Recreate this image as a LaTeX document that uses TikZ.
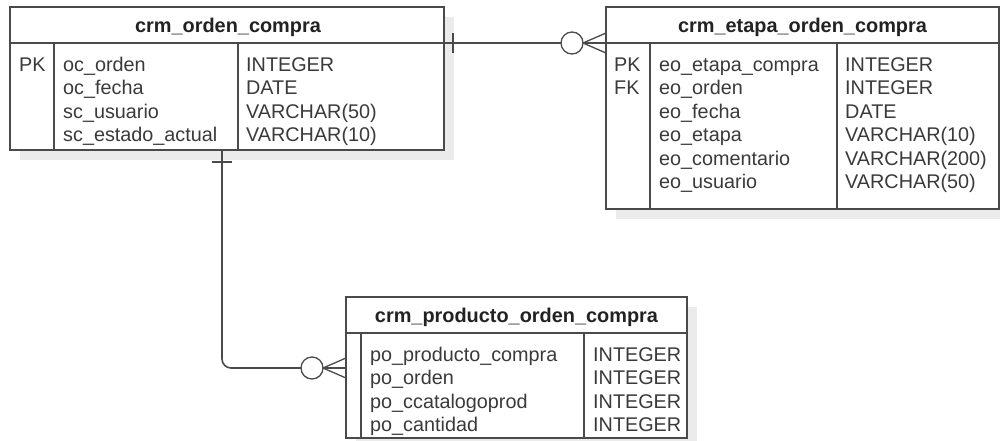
\documentclass[tikz,border=0pt]{standalone}
\usepackage{fontspec}
\setmainfont{Liberation Sans}
\usetikzlibrary{calc}
\definecolor{linegray}{HTML}{4A4A4A}
\definecolor{textgray}{HTML}{3A3A3A}
\definecolor{titlegray}{HTML}{222222}
\definecolor{shade}{HTML}{EBEBEB}

\tikzset{
  frame/.style={draw=linegray, line width=1.6pt, fill=white, inner sep=0pt, outer sep=0pt, anchor=north west},
  shadowbox/.style={fill=shade, draw=none, inner sep=0pt, outer sep=0pt, anchor=north west},
  titletext/.style={anchor=base, inner sep=0pt, text=titlegray, font=\bfseries\fontsize{19.9}{23}\selectfont},
  coltext/.style={anchor=base west, inner sep=0pt, text=textgray, font=\fontsize{19.8}{23}\selectfont},
  divider/.style={draw=linegray, line width=1.6pt},
  rel/.style={draw=linegray, line width=1.6pt},
  prong/.style={draw=linegray, line width=1.3pt},
  zeroend/.style={circle, draw=linegray, line width=1.3pt, fill=white, minimum size=22pt, inner sep=0pt, outer sep=0pt},
}

\begin{document}
\begin{tikzpicture}[x=1pt, y=-1pt]
\useasboundingbox (0,0) rectangle (1000,440);
\clip (0,0) rectangle (1000,440);

% drop shadows
\node[shadowbox, minimum width=434pt, minimum height=143pt] (s1) at (20,17) {};
\node[shadowbox, minimum width=393pt, minimum height=202pt] (s2) at (616,17) {};
\node[shadowbox, minimum width=341pt, minimum height=141pt] (s3) at (356,307) {};

% ---- crm_orden_compra ----
\node[frame, minimum width=434pt, minimum height=36pt] (t1head) at (10,7) {};
\node[frame, minimum width=434pt, minimum height=107pt] (t1body) at (10,43) {};
\draw[divider] (54,43) -- (54,150);
\draw[divider] (238,43) -- (238,150);
\node[titletext] (t1title) at (228,32) {crm\_orden\_compra};
\node[coltext] (t1key1) at (19,71) {PK};
\foreach \n/\t [count=\i] in {oc\_orden/INTEGER, oc\_fecha/DATE, sc\_usuario/VARCHAR(50), sc\_estado\_actual/VARCHAR(10)} {
  \node[coltext] (t1name\i) at (63,{71+(\i-1)*23.5}) {\n};
  \node[coltext] (t1type\i) at (246,{71+(\i-1)*23.5}) {\t};
}

% ---- crm_etapa_orden_compra ----
\node[frame, minimum width=393pt, minimum height=36pt] (t2head) at (606,7) {};
\node[frame, minimum width=393pt, minimum height=166pt] (t2body) at (606,43) {};
\draw[divider] (650,43) -- (650,209);
\draw[divider] (837,43) -- (837,209);
\node[titletext] (t2title) at (802.5,32) {crm\_etapa\_orden\_compra};
\node[coltext] (t2key1) at (614,71) {PK};
\node[coltext] (t2key2) at (614,94.5) {FK};
\foreach \n/\t [count=\i] in {eo\_etapa\_compra/INTEGER, eo\_orden/INTEGER, eo\_fecha/DATE, eo\_etapa/VARCHAR(10), eo\_comentario/VARCHAR(200), eo\_usuario/VARCHAR(50)} {
  \node[coltext] (t2name\i) at (659,{71+(\i-1)*23.5}) {\n};
  \node[coltext] (t2type\i) at (845,{71+(\i-1)*23.5}) {\t};
}

% ---- crm_producto_orden_compra ----
\node[frame, minimum width=341pt, minimum height=36pt] (t3head) at (346,297) {};
\node[frame, minimum width=341pt, minimum height=105pt] (t3body) at (346,333) {};
\draw[divider] (361,333) -- (361,438);
\draw[divider] (584,333) -- (584,438);
\node[titletext] (t3title) at (516.5,322) {crm\_producto\_orden\_compra};
\foreach \n [count=\i] in {po\_producto\_compra, po\_orden, po\_ccatalogoprod, po\_cantidad} {
  \node[coltext] (t3name\i) at (370,{361+(\i-1)*23.5}) {\n};
  \node[coltext] (t3type\i) at (593,{361+(\i-1)*23.5}) {INTEGER};
}

% ---- relation: orden -> etapa (one to zero-or-many) ----
\draw[rel] (t1head.south east) -- (t2head.south west);
\draw[rel] ([xshift=9pt,yshift=10pt]t1head.south east) -- ([xshift=9pt,yshift=-10pt]t1head.south east);
\node[zeroend] (z1) at ([xshift=-34pt]t2head.south west) {};
\draw[prong] (z1.east) -- ([yshift=10pt]t2head.south west);
\draw[prong] (z1.east) -- ([yshift=-10pt]t2head.south west);

% ---- relation: orden -> producto (one to zero-or-many) ----
\coordinate (r2a) at ([xshift=-5pt]t1body.south);
\coordinate (r2b) at ([yshift=-35pt]t3head.south west);
\draw[rel, rounded corners=9pt] (r2a) |- (r2b);
\draw[rel] ([xshift=-10pt,yshift=-12pt]r2a) -- ([xshift=10pt,yshift=-12pt]r2a);
\node[zeroend] (z2) at ([xshift=-34pt]r2b) {};
\draw[prong] (z2.east) -- ([yshift=10pt]r2b);
\draw[prong] (z2.east) -- ([yshift=-10pt]r2b);
\end{tikzpicture}
\end{document}
